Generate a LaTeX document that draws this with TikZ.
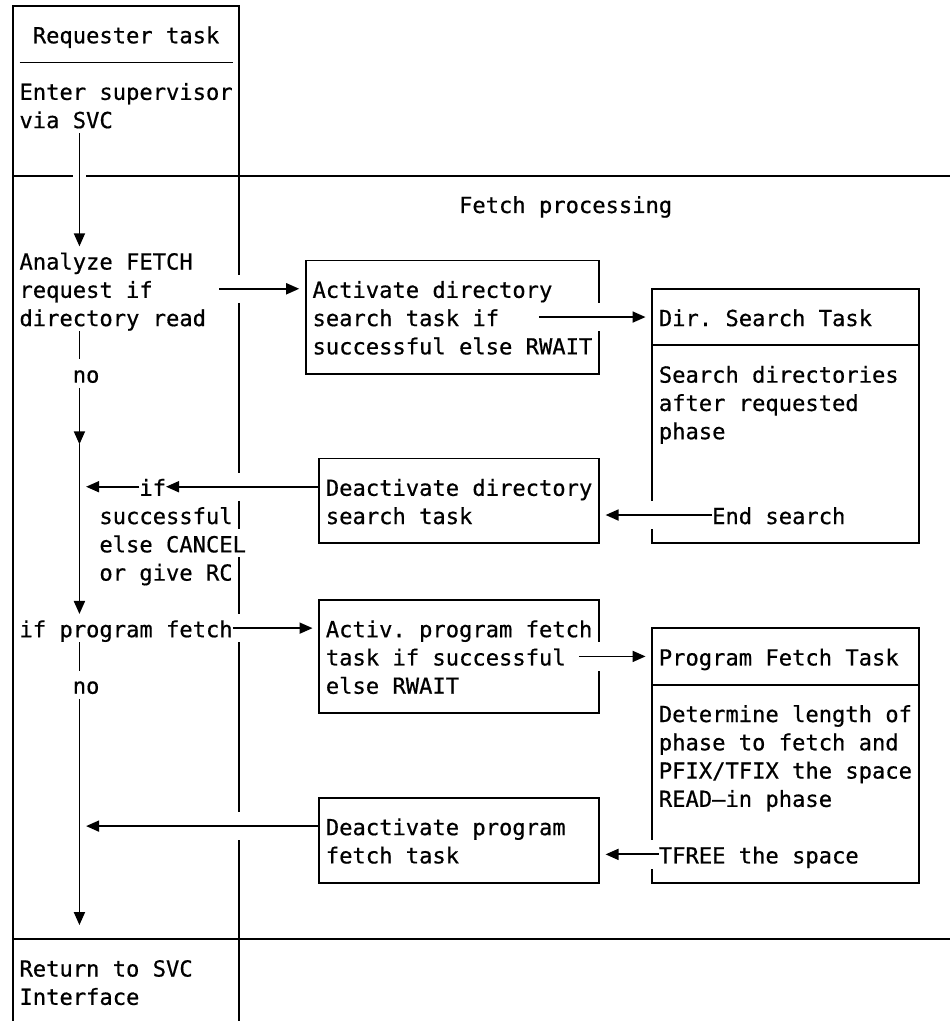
\documentclass[tikz,border=0pt]{standalone}
\usepackage{fontspec}
\newfontfamily\dmono[BoldFont={DejaVu Sans Mono},BoldFeatures={FakeBold=0.6}]{DejaVu Sans Mono}
\usetikzlibrary{arrows.meta,fit}
\newcommand\mlines[1]{\begin{tabular}[t]{@{}l@{}}#1\end{tabular}}
\begin{document}
\begin{tikzpicture}[x=13.32pt,y=-28.28pt,
  txt/.style={anchor=base west,inner sep=0pt,outer sep=0pt,
    font=\dmono\bfseries\fontsize{22.13}{28.28}\selectfont\frenchspacing},
  ln/.style={line width=1.8pt},
  boxst/.style={draw,line width=1.8pt,inner sep=0pt,outer sep=0pt,rectangle},
  arr/.style={line width=1.8pt,-{Triangle[length=13pt,width=11pt]}},
  gapst/.style={fill=white,draw=none}]
\useasboundingbox (-1.464,-1.531) rectangle (69.857,34.572);

% ---- frame and lane lines
\draw[ln] (-0.5,34.572) -- (-0.5,-1.32) -- (16.5,-1.32) -- (16.5,8.18);
\draw[ln] (0,0.68) -- (16,0.68);
\draw[ln] (-0.5,4.68) -- (4,4.68);
\draw[ln] (5,4.68) -- (69.857,4.68);
\draw[ln] (-0.5,31.68) -- (69.857,31.68);
\foreach \a/\b in {9.18/15.18, 16.18/17.18, 18.18/20.18, 21.18/27.18, 28.18/34.572}
  \draw[ln] (16.5,\a) -- (16.5,\b);

% ---- left column texts
\node[txt] (req) at (1,0) {Requester task};
\node[txt] (enter) at (0,2) {\mlines{Enter supervisor\\via SVC}};
\node[txt] (analyze) at (0,8) {\mlines{Analyze FETCH\\request if\\directory read}};
\node[txt] (no1) at (4,12) {no};
\node[txt] (ifn) at (9,16) {if};
\node[txt] (succ) at (6,17) {\mlines{successful\\else CANCEL\\or give RC}};
\node[txt] (ifprog) at (0,21) {if program fetch};
\node[txt] (no2) at (4,23) {no};
\node[txt] (ret) at (0,33) {\mlines{Return to SVC\\Interface}};
\node[txt] (fetchproc) at (33,6) {Fetch processing};

% ---- boxes
\node[boxst, fit={(21.5,7.68) (43.5,11.68)}] (actdir) {};
\node[txt] (actdirT) at (22,9) {\mlines{Activate directory\\search task if\\successful else RWAIT}};
\node[boxst, fit={(47.5,8.68) (67.5,17.68)}] (dirtask) {};
\draw[ln] (dirtask.west |- 0,10.68) -- (dirtask.east |- 0,10.68);
\node[txt] (dirtaskH) at (48,10) {Dir. Search Task};
\node[txt] (dirtaskT) at (48,12) {\mlines{Search directories\\after requested\\phase}};
\node[txt] (endsearch) at (52,17) {End search};
\node[boxst, fit={(22.5,14.68) (43.5,17.68)}] (deactdir) {};
\node[txt] (deactdirT) at (23,16) {\mlines{Deactivate directory\\search task}};

\node[boxst, fit={(22.5,19.68) (43.5,23.68)}] (actprog) {};
\node[txt] (actprogT) at (23,21) {\mlines{Activ. program fetch\\task if successful\\else RWAIT}};
\node[boxst, fit={(47.5,20.68) (67.5,29.68)}] (progtask) {};
\draw[ln] (progtask.west |- 0,22.68) -- (progtask.east |- 0,22.68);
\node[txt] (progtaskH) at (48,22) {Program Fetch Task};
\node[txt] (progtaskT) at (48,24) {\mlines{Determine length of\\phase to fetch and\\PFIX/TFIX the space\\READ—in phase}};
\node[txt] (tfree) at (48,29) {TFREE the space};
\node[boxst, fit={(22.5,26.68) (43.5,29.68)}] (deactprog) {};
\node[txt] (deactprogT) at (23,28) {\mlines{Deactivate program\\fetch task}};

% ---- gaps in box edges
\fill[gapst] (43.3,9.18) rectangle (43.7,10.18);
\fill[gapst] (47.3,16.18) rectangle (47.7,17.18);
\fill[gapst] (43.3,21.18) rectangle (43.7,22.18);
\fill[gapst] (47.3,28.18) rectangle (47.7,29.18);

% ---- connector end points
\coordinate (v1a) at (4.5,3.18);  \coordinate (v1b) at (4.5,7.18);
\coordinate (v2a) at (4.5,10.18); \coordinate (v2b) at (4.5,11.18);
\coordinate (v3a) at (4.5,12.18); \coordinate (v3b) at (4.5,14.18);
\coordinate (v4b) at (4.5,20.18);
\coordinate (v5a) at (4.5,21.18); \coordinate (v5b) at (4.5,22.18);
\coordinate (v6a) at (4.5,23.18); \coordinate (v6b) at (4.5,31.18);
\coordinate (h1a) at (15,8.68);   \coordinate (h1b) at (21,8.68);
\coordinate (h2a) at (39,9.68);   \coordinate (h2b) at (47,9.68);
\coordinate (h3b) at (11,15.68);
\coordinate (h4a) at (9,15.68);   \coordinate (h4b) at (5,15.68);
\coordinate (h5b) at (44,16.68);
\coordinate (h6a) at (16,20.68);  \coordinate (h6b) at (22,20.68);
\coordinate (h7a) at (42,21.68);  \coordinate (h7b) at (47,21.68);
\coordinate (h8b) at (5,27.68);
\coordinate (h9b) at (44,28.68);

% ---- connectors
\draw[arr] (v1a) -- (v1b);
\draw[ln] (v2a) -- (v2b);
\draw[arr] (v3a) -- (v3b);
\draw[arr] (v3b) -- (v4b);
\draw[ln] (v5a) -- (v5b);
\draw[arr] (v6a) -- (v6b);
\draw[arr] (h1a) -- (h1b);
\draw[arr] (h2a) -- (h2b);
\draw[arr] (deactdir.west |- h3b) -- (h3b);
\draw[arr] (h4a) -- (h4b);
\draw[arr] (endsearch.west |- h5b) -- (h5b);
\draw[arr] (h6a) -- (h6b);
\draw[arr] (h7a) -- (h7b);
\draw[arr] (deactprog.west |- h8b) -- (h8b);
\draw[arr] (tfree.west |- h9b) -- (h9b);
\end{tikzpicture}
\end{document}
